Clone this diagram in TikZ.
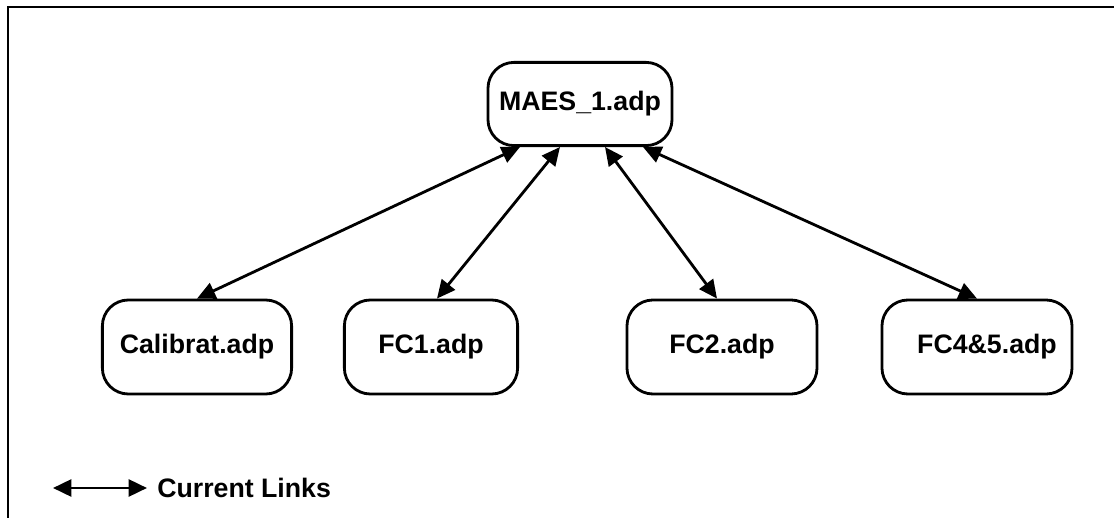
\documentclass[tikz,border=0pt]{standalone}
\usepackage{fontspec}
\setmainfont{Liberation Sans}
\usepackage{tikz}
\usetikzlibrary{arrows.meta,positioning,calc}

\begin{document}
\begin{tikzpicture}[
    x=0.025cm, y=-0.025cm,
    adpbox/.style={rectangle, draw, line width=2pt, rounded corners=0.65cm, inner sep=0pt, font=\bfseries\fontsize{19}{23}\selectfont},
    link/.style={{Triangle[length=13pt,width=12pt]}-{Triangle[length=13pt,width=12pt]}, line width=2pt},
    frame/.style={line width=1.4pt}
]
    \useasboundingbox (0,0) rectangle (1114,518);
    % open frame (top and left only)
    \coordinate (frtl) at (8,7);
    \coordinate (frtr) at (1114,7);
    \coordinate (frbl) at (8,518);
    \draw[frame] (frbl) -- (frtl) -- (frtr);

    % main file
    \node[adpbox, minimum width=4.6cm, minimum height=2.08cm] (maes) at (580,104) {MAES\_1.adp};

    % linked files
    \node[adpbox, minimum width=4.73cm, minimum height=2.35cm] (cal) at (197,347) {Calibrat.adp};
    \node[adpbox, minimum width=4.33cm, minimum height=2.35cm] (fc1) at (431,347) {FC1.adp};
    \node[adpbox, minimum width=4.75cm, minimum height=2.35cm] (fc2) at (722,347) {FC2.adp};
    \node[adpbox, minimum width=4.75cm, minimum height=2.35cm] (fc45) at (977,347) {\hspace{0.5cm}FC4\&5.adp};

    % current links
    \draw[link] ([xshift=-1.5cm]maes.south) -- (cal.north);
    \draw[link] ([xshift=-0.5cm]maes.south) -- ([xshift=0.15cm]fc1.north);
    \draw[link] ([xshift=0.625cm]maes.south) -- ([xshift=-0.125cm]fc2.north);
    \draw[link] ([xshift=1.575cm]maes.south) -- (fc45.north);

    % legend
    \coordinate (lgl) at (53,488);
    \node[anchor=west, inner sep=0pt, font=\bfseries\fontsize{19}{23}\selectfont] (lgtext) at (157,488) {Current Links};
    \draw[link] (lgl) -- ([xshift=-0.25cm]lgtext.west);
\end{tikzpicture}
\end{document}
